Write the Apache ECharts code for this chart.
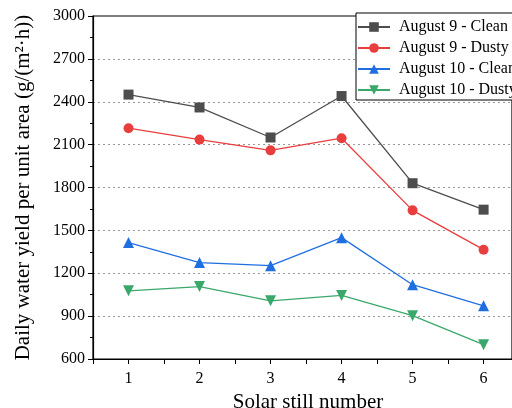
<!DOCTYPE html>
<html><head><meta charset="utf-8">
<script src="https://cdn.jsdelivr.net/npm/echarts@6/dist/echarts.min.js"></script>
<style>html,body{margin:0;padding:0;background:#fff}#c{width:512px;height:408px}</style>
</head><body><div id="c"></div>
<script>
const stills = [1, 2, 3, 4, 5, 6];
const aug9Clean = [2450, 2360, 2150, 2440, 1830, 1645];
const aug9Dusty = [2215, 2135, 2060, 2145, 1640, 1365];
const aug10Clean = [1415, 1275, 1253, 1449, 1120, 972];
const aug10Dusty = [1077, 1107, 1007, 1045, 903, 700];
const seriesNames = ['August 9 - Clean', 'August 9 - Dusty', 'August 10 - Clean', 'August 10 - Dusty'];
const yTicks = [600, 900, 1200, 1500, 1800, 2100, 2400, 2700, 3000];

const FONT = 'Liberation Serif';
const colors = ['#4d4d4d', '#e83e3e', '#1f6fe0', '#3aa86b'];
const symbols = ['rect', 'circle', 'triangle', 'path://M0,0 L10,0 L5,9 Z'];
const sizes = [10, 10, 11, 11];
const allData = [aug9Clean, aug9Dusty, aug10Clean, aug10Dusty];

const chart = echarts.init(document.getElementById('c'));
chart.setOption({
  animation: false,
  backgroundColor: '#fff',
  grid: { left: 93, right: 0, top: 16, bottom: 49, containLabel: false, outerBoundsMode: 'none',
    show: true, borderColor: '#000', borderWidth: 1.2, backgroundColor: 'rgba(0,0,0,0)' },
  legend: {
    orient: 'vertical', left: 356, top: 13, width: 200,
    padding: [6, 30, 2, 1], itemGap: 5, itemWidth: 32, itemHeight: 12,
    backgroundColor: '#fff', borderColor: '#000', borderWidth: 1, borderRadius: 0,
    textStyle: { fontFamily: FONT, fontSize: 16, color: '#000', lineHeight: 16, padding: [0, 0, 0, 4] },
    data: seriesNames
  },
  xAxis: {
    type: 'value', min: 0.5, max: 6.4, interval: 0.5,
    name: 'Solar still number', nameLocation: 'middle', nameGap: 22,
    nameTextStyle: { fontFamily: FONT, fontSize: 21, color: '#000', padding: [0, 0, 0, 11] },
    axisLine: { show: true, onZero: false, lineStyle: { color: '#000', width: 1.2 } },
    axisTick: { show: true, inside: false, length: 5, lineStyle: { color: '#000' } },
    axisLabel: { fontFamily: FONT, fontSize: 16, color: '#000', margin: 12, showMaxLabel: false,
      formatter: v => (Math.abs(v - Math.round(v)) < 1e-6 && stills.includes(Math.round(v))) ? String(Math.round(v)) : '' },
    splitLine: { show: false }
  },
  yAxis: {
    type: 'value', min: yTicks[0], max: yTicks[yTicks.length - 1], interval: 300,
    name: 'Daily water yield per unit area (g/(m²·h))', nameLocation: 'middle', nameGap: 59,
    nameTextStyle: { fontFamily: FONT, fontSize: 21, color: '#000' },
    axisLine: { show: true, lineStyle: { color: '#000', width: 1.2 } },
    axisTick: { show: true, inside: false, length: 5, lineStyle: { color: '#000' } },
    minorTick: { show: true, splitNumber: 2, length: 3, lineStyle: { color: '#000' } },
    axisLabel: { fontFamily: FONT, fontSize: 16, color: '#000', margin: 8, formatter: v => String(v) },
    splitLine: { show: true, lineStyle: { type: [2, 3], width: 1,
      color: yTicks.map((t, i) => (i === 0 || i === yTicks.length - 1) ? 'rgba(0,0,0,0)' : '#999') } }
  },
  series: seriesNames.map((n, i) => ({
    name: n, type: 'line',
    data: stills.map((s, j) => [s, allData[i][j]]),
    symbol: symbols[i], symbolSize: sizes[i], showSymbol: true,
    itemStyle: { color: colors[i] },
    lineStyle: { color: colors[i], width: 1.3 },
    z: 10 - i
  }))
});
</script></body></html>
